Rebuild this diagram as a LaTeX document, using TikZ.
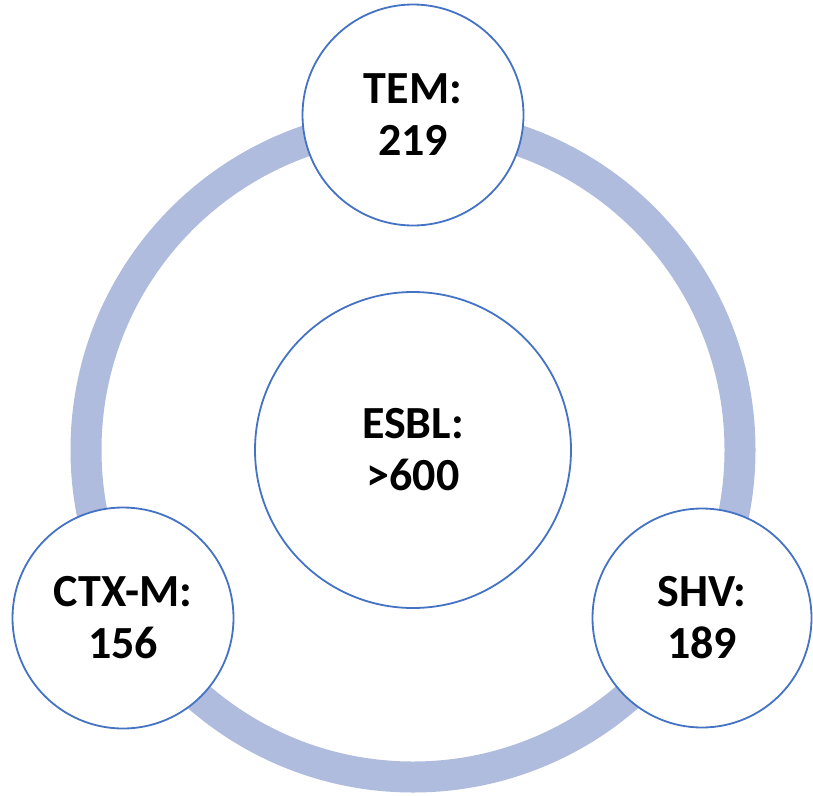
\documentclass[tikz,border=0pt]{standalone}
\usepackage{fontspec}
\setmainfont{Carlito}
\definecolor{ringcol}{HTML}{AFBCDE}
\definecolor{edgecol}{HTML}{4472C4}
\begin{document}
\begin{tikzpicture}[x=1pt,y=-1pt,
  bubble/.style={circle, draw=edgecol, line width=1.8pt, fill=white, inner sep=0pt, align=center,
    font=\fontsize{46}{52}\selectfont\bfseries}]
\useasboundingbox (0,0) rectangle (813,795);
\coordinate (c) at (413,450);
\draw[ringcol, line width=31pt] (c) circle (327pt);
\node[bubble, minimum size=316pt] (esbl) at (c) {ESBL:\\>600};
\node[bubble, minimum size=221pt] (tem) at (413,115) {TEM:\\219};
\node[bubble, minimum size=221pt] (ctx) at (123,618) {CTX-M:\\156};
\node[bubble, minimum size=219pt] (shv) at (702,618) {SHV:\\189};
\end{tikzpicture}
\end{document}
